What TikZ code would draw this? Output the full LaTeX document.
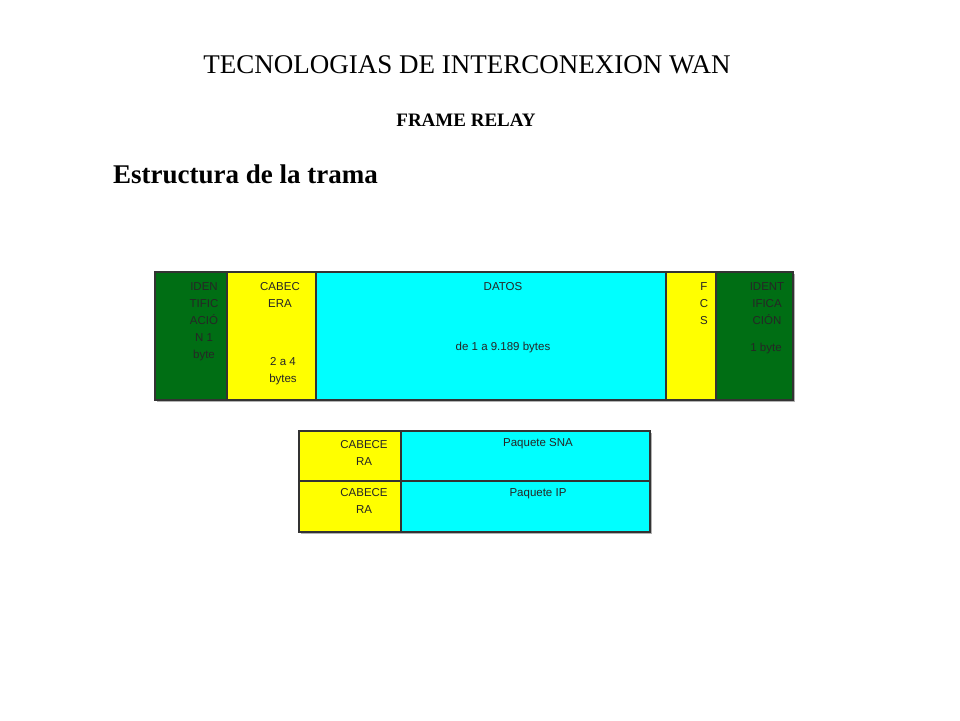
\documentclass[tikz,border=0pt]{standalone}
\usepackage{fontspec}
\setmainfont{Liberation Serif}
\newfontfamily\arialf{Liberation Sans}
\definecolor{dgreen}{RGB}{0,110,20}
\definecolor{ylw}{RGB}{255,255,0}
\definecolor{cyn}{RGB}{0,255,255}
\begin{document}
\begin{tikzpicture}[x=1pt,y=-1pt,
  cell/.style={draw=black!80,line width=1.2pt},
  lbl/.style={font=\arialf\fontsize{11.5}{17}\selectfont,align=center,inner sep=0pt,anchor=north,text=black!85}]
\useasboundingbox (0,0) rectangle (960,720);
\node[font=\fontsize{27}{30}\selectfont,anchor=base] (t1) at (467,73) {TECNOLOGIAS DE INTERCONEXION WAN};
\node[font=\bfseries\fontsize{19}{22}\selectfont,anchor=base] (t2) at (466,126) {FRAME RELAY};
\node[font=\bfseries\fontsize{27}{30}\selectfont,anchor=base west,inner sep=0pt] (t3) at (113,183) {Estructura de la trama};
% shadow
\fill[gray!60] (157,274) rectangle (795,402);
\fill[gray!60] (301,433) rectangle (652,534);
\filldraw[cell,fill=dgreen] (155,272) rectangle (227,400);
\filldraw[cell,fill=ylw] (227,272) rectangle (316,400);
\filldraw[cell,fill=cyn] (316,272) rectangle (666,400);
\filldraw[cell,fill=ylw] (666,272) rectangle (716,400);
\filldraw[cell,fill=dgreen] (716,272) rectangle (793,400);
\filldraw[cell,fill=ylw] (299,431) rectangle (401,481);
\filldraw[cell,fill=cyn] (401,431) rectangle (650,481);
\filldraw[cell,fill=ylw] (299,481) rectangle (401,532);
\filldraw[cell,fill=cyn] (401,481) rectangle (650,532);
\node[lbl] (a) at (204,282) {IDEN\\TIFIC\\ACIÓ\\N 1\\byte};
\node[lbl] (b) at (280,282) {CABEC\\ERA};
\node[lbl] (b2) at (283,357) {2 a 4\\bytes};
\node[lbl] (c) at (503,282) {DATOS};
\node[lbl] (c2) at (503,342) {de 1 a 9.189 bytes};
\node[lbl] (d) at (704,282) {F\\C\\S};
\node[lbl] (e) at (767,282) {IDENT\\IFICA\\CIÓN};
\node[lbl] (e2) at (766,343) {1 byte};
\node[lbl] (f) at (364,440) {CABECE\\RA};
\node[lbl] (g) at (538,438) {Paquete SNA};
\node[lbl] (h) at (364,488) {CABECE\\RA};
\node[lbl] (i) at (538,488) {Paquete IP};
\end{tikzpicture}
\end{document}
